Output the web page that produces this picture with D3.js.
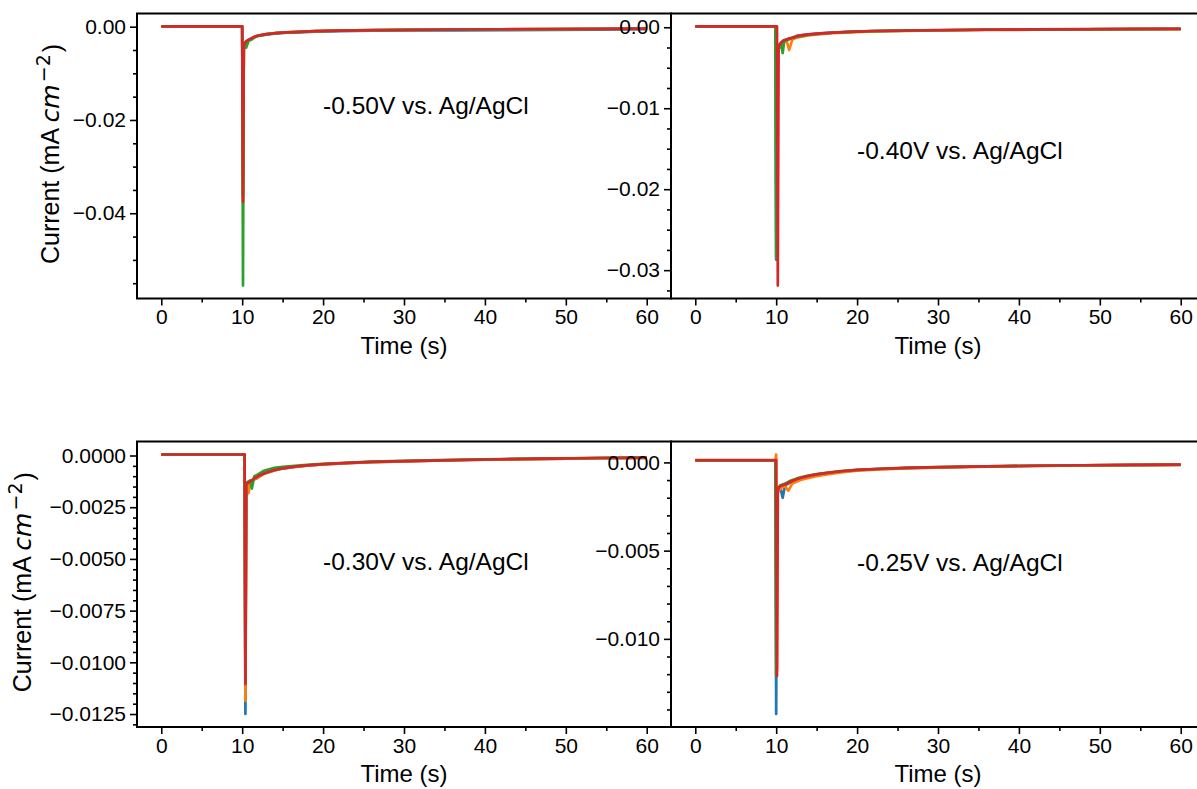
<!DOCTYPE html>
<html>
<head>
<meta charset="utf-8">
<script src="https://cdn.jsdelivr.net/npm/d3@7"></script>
<style>
body { margin: 0; background: #fff; }
svg text { font-family: "Liberation Sans", Arial, sans-serif; fill: #000; }
</style>
</head>
<body>
<svg id="chart" width="1197" height="789"></svg>
<script>
// series colours (matplotlib tab10)
var colors = ["#1f77b4", "#ff7f0e", "#2ca02c", "#d62728"];

// x ticks (s)
var xMajor = [0, 10, 20, 30, 40, 50, 60];
var xMinor = [5, 15, 25, 35, 45, 55];

// -0.50 V
var time050 = [0, 10.0, 10.1, 10.2, 10.35, 10.5, 10.8, 11.2, 11.6, 12, 13, 14, 15.5, 17, 19, 22, 26, 30, 36, 42, 48, 54, 60];
var blue050 = [0.00003, 0.00003, -0.0360, -0.0045, -0.0036, -0.0033, -0.0030, -0.0026, -0.0022, -0.0020, -0.0017, -0.0015, -0.0013, -0.0012, -0.00105, -0.00095, -0.00085, -0.0008, -0.00078, -0.00074, -0.0007, -0.00062, -0.00052];
var orange050 = [0.00004, 0.00004, -0.0368, -0.0042, -0.0035, -0.0032, -0.0029, -0.0025, -0.0021, -0.0019, -0.0016, -0.0014, -0.0012, -0.0011, -0.00095, -0.00086, -0.00076, -0.0007, -0.00062, -0.00057, -0.00052, -0.00047, -0.00042];
var green050 = [0.00004, 0.00004, -0.0555, -0.0048, -0.0036, -0.0045, -0.0030, -0.0027, -0.0022, -0.0019, -0.0016, -0.0014, -0.0012, -0.0011, -0.00095, -0.00085, -0.00075, -0.00069, -0.00061, -0.00056, -0.00051, -0.00046, -0.00041];
var red050 = [0.00005, 0.00005, -0.0376, -0.0040, -0.0034, -0.0031, -0.0028, -0.0024, -0.0021, -0.0019, -0.0016, -0.0014, -0.0012, -0.0011, -0.00095, -0.00085, -0.00075, -0.00068, -0.0006, -0.00055, -0.0005, -0.00045, -0.0004];
var yMajor050 = [0, -0.02, -0.04];

// -0.40 V
var time040 = [0, 9.9, 10.0, 10.1, 10.2, 10.3, 10.45, 10.6, 10.8, 11.0, 11.3, 11.6, 12, 12.5, 13, 14, 15.5, 17, 19, 22, 26, 30, 36, 42, 48, 54, 60];
var blue040 = [0.0001, 0.0001, -0.0287, -0.0026, -0.0024, -0.0022, -0.0025, -0.0019, -0.0018, -0.0016, -0.0015, -0.0014, -0.0013, -0.0011, -0.0010, -0.00088, -0.00076, -0.00067, -0.00057, -0.00047, -0.00041, -0.00037, -0.00031, -0.00028, -0.00025, -0.00022, -0.00021];
var orange040 = [0.0001, 0.0001, 0.0001, -0.0283, -0.0027, -0.0025, -0.0023, -0.0021, -0.0019, -0.0018, -0.0017, -0.0028, -0.0015, -0.0013, -0.0012, -0.0010, -0.00086, -0.00074, -0.00063, -0.00052, -0.00045, -0.0004, -0.00034, -0.0003, -0.00027, -0.00024, -0.00022];
var green040 = [0.0001, 0.0001, -0.0285, -0.0030, -0.0026, -0.0023, -0.0021, -0.0020, -0.0032, -0.0017, -0.0016, -0.0015, -0.0013, -0.0012, -0.0011, -0.00092, -0.00078, -0.00068, -0.00058, -0.00048, -0.00041, -0.00037, -0.00031, -0.00028, -0.00025, -0.00022, -0.00021];
var red040 = [0.0001, 0.0001, 0.0001, 0.0001, -0.0319, -0.0024, -0.0021, -0.0019, -0.0017, -0.0016, -0.0015, -0.0014, -0.0013, -0.0011, -0.0010, -0.00088, -0.00075, -0.00066, -0.00056, -0.00046, -0.0004, -0.00036, -0.0003, -0.00027, -0.00024, -0.00021, -0.0002];
var yMajor040 = [0, -0.01, -0.02, -0.03];

// -0.30 V
var time030 = [0, 10.3, 10.4, 10.5, 10.6, 10.8, 11.0, 11.2, 11.5, 11.8, 12.2, 12.6, 13, 14, 15, 16.5, 18, 20, 23, 26, 30, 36, 42, 48, 54, 60];
var blue030 = [0.00005, 0.00005, -0.0125, -0.0015, -0.0019, -0.0014, -0.0013, -0.00125, -0.00115, -0.0011, -0.001, -0.0009, -0.00084, -0.00072, -0.00063, -0.00055, -0.00049, -0.00043, -0.00037, -0.00032, -0.00028, -0.00023, -0.00019, -0.00016, -0.00013, -0.00011];
var orange030 = [0.00005, 0.00005, -0.01186, -0.0015, -0.0014, -0.0018, -0.0013, -0.00125, -0.00115, -0.0011, -0.001, -0.0009, -0.00083, -0.00071, -0.00062, -0.00055, -0.00049, -0.00043, -0.00037, -0.00032, -0.00028, -0.00023, -0.00019, -0.00016, -0.00013, -0.00011];
var green030 = [0.00005, 0.00005, -0.0110, -0.0014, -0.0013, -0.00125, -0.0012, -0.0016, -0.001, -0.00095, -0.00085, -0.00075, -0.0007, -0.0006, -0.00055, -0.0005, -0.00045, -0.0004, -0.00035, -0.0003, -0.00026, -0.00021, -0.00017, -0.00014, -0.00012, -0.0001];
var red030 = [0.00005, 0.00005, -0.01105, -0.0014, -0.00135, -0.0013, -0.00125, -0.0012, -0.0011, -0.00105, -0.00095, -0.00088, -0.00082, -0.0007, -0.00062, -0.00054, -0.00048, -0.00042, -0.00036, -0.00031, -0.00027, -0.00022, -0.00018, -0.00015, -0.00012, -0.0001];
var yMajor030 = [0, -0.0025, -0.005, -0.0075, -0.01, -0.0125];

// -0.25 V
var time025 = [0, 9.9, 10.0, 10.1, 10.2, 10.35, 10.5, 10.8, 11.1, 11.5, 12, 12.5, 13, 14, 15, 16.5, 18, 20, 23, 26, 30, 36, 42, 48, 54, 60];
var blue025 = [0.00012, 0.00012, -0.01426, -0.0017, -0.0016, -0.0015, -0.0014, -0.0020, -0.0013, -0.0012, -0.0011, -0.001, -0.00092, -0.0008, -0.0007, -0.0006, -0.00052, -0.00044, -0.00037, -0.00032, -0.00028, -0.00023, -0.0002, -0.00017, -0.00015, -0.00014];
var orange025 = [0.00012, 0.00012, 0.00045, -0.0118, -0.0017, -0.0016, -0.0015, -0.0014, -0.00135, -0.0016, -0.0012, -0.0011, -0.001, -0.00088, -0.00078, -0.00066, -0.00056, -0.00047, -0.0004, -0.00034, -0.00029, -0.00024, -0.0002, -0.00017, -0.00015, -0.00014];
var green025 = [0.00012, 0.00012, -0.0121, -0.0016, -0.0015, -0.0014, -0.0013, -0.00125, -0.0012, -0.0011, -0.001, -0.00092, -0.00085, -0.00074, -0.00066, -0.00057, -0.00049, -0.00042, -0.00036, -0.00031, -0.00027, -0.00022, -0.00019, -0.00016, -0.00014, -0.00013];
var red025 = [0.00013, 0.00013, 0.00013, -0.0121, -0.0016, -0.0014, -0.00135, -0.0013, -0.00125, -0.00115, -0.00105, -0.00095, -0.00088, -0.00076, -0.00068, -0.00058, -0.0005, -0.00042, -0.00036, -0.00031, -0.00027, -0.00022, -0.00019, -0.00016, -0.00014, -0.00013];
var yMajor025 = [0, -0.005, -0.010];

// panel setup, drawn in matplotlib order so the right panels sit on top
var panels = [
  {time: time050, series: [blue050, orange050, green050, red050], yMajor: yMajor050, minorStep: 0.005, fmt: ".2f",
   note: "-0.50V vs. Ag/AgCl", noteAt: [20, -0.0168], left: 137, right: 671, top: 13.5, bottom: 298.5, ylabelX: 50},
  {time: time040, series: [blue040, orange040, green040, red040], yMajor: yMajor040, minorStep: 0.0025, fmt: ".2f",
   note: "-0.40V vs. Ag/AgCl", noteAt: [20, -0.01515], left: 671, right: 1205, top: 13.5, bottom: 298.5},
  {time: time030, series: [blue030, orange030, green030, red030], yMajor: yMajor030, minorStep: 0.0005, fmt: ".4f",
   note: "-0.30V vs. Ag/AgCl", noteAt: [20, -0.00512], left: 137, right: 671, top: 441.5, bottom: 727, ylabelX: 22},
  {time: time025, series: [blue025, orange025, green025, red025], yMajor: yMajor025, minorStep: 0.001, fmt: ".3f",
   note: "-0.25V vs. Ag/AgCl", noteAt: [20, -0.00565], left: 671, right: 1205, top: 441.5, bottom: 727}
];

var svg = d3.select("#chart");

panels.forEach(function(p, i) {
  var g = svg.append("g");

  var x = d3.scaleLinear().domain([-3, 63]).range([p.left, p.right]);

  // y extent padded 5% like matplotlib autoscale
  var all = d3.merge(p.series);
  var lo = d3.min(all), hi = d3.max(all), pad = (hi - lo) * 0.05;
  var y = d3.scaleLinear().domain([lo - pad, hi + pad]).range([p.bottom, p.top]);

  g.append("clipPath").attr("id", "clip" + i)
    .append("rect")
    .attr("x", p.left).attr("y", p.top)
    .attr("width", p.right - p.left).attr("height", p.bottom - p.top);

  var line = d3.line()
    .x(function(d) { return x(d[0]); })
    .y(function(d) { return y(d[1]); });

  g.append("g").attr("clip-path", "url(#clip" + i + ")")
    .selectAll("path")
    .data(p.series)
    .enter().append("path")
      .attr("d", function(s) { return line(p.time.map(function(t, k) { return [t, s[k]]; })); })
      .attr("fill", "none")
      .attr("stroke", function(s, k) { return colors[k]; })
      .attr("stroke-width", 2.7)
      .attr("stroke-linejoin", "round");

  // minor y ticks
  var yMinor = d3.range(0, y.domain()[0], -p.minorStep).filter(function(v) {
    return !p.yMajor.some(function(m) { return Math.abs(m - v) < 1e-9; });
  });
  g.append("g")
    .attr("transform", "translate(" + p.left + ",0)")
    .call(d3.axisLeft(y).tickValues(yMinor).tickSize(4).tickFormat(""));
  g.append("g")
    .attr("transform", "translate(" + p.left + ",0)")
    .call(d3.axisLeft(y).tickValues(p.yMajor).tickSize(7).tickPadding(4).tickFormat(d3.format(p.fmt)));

  // x ticks
  g.append("g")
    .attr("transform", "translate(0," + p.bottom + ")")
    .call(d3.axisBottom(x).tickValues(xMinor).tickSize(4).tickFormat(""));
  g.append("g")
    .attr("transform", "translate(0," + p.bottom + ")")
    .call(d3.axisBottom(x).tickValues(xMajor).tickSize(7).tickPadding(4).tickFormat(d3.format("d")));

  g.selectAll(".domain").remove();
  g.selectAll(".tick line").attr("stroke", "#000").attr("stroke-width", 1.6);
  g.selectAll(".tick text").style("font-size", "21px").attr("fill", "#000");

  // frame
  g.append("rect")
    .attr("x", p.left).attr("y", p.top)
    .attr("width", p.right - p.left).attr("height", p.bottom - p.top)
    .attr("fill", "none").attr("stroke", "#000").attr("stroke-width", 2);

  // x label
  g.append("text")
    .attr("x", (p.left + p.right) / 2)
    .attr("y", p.bottom + 55)
    .attr("text-anchor", "middle")
    .style("font-size", "24px")
    .text("Time (s)");

  // y label only on left panels
  if (p.ylabelX) {
    var yl = g.append("text")
      .attr("transform", "translate(" + p.ylabelX + "," + ((p.top + p.bottom) / 2 - 2) + ") rotate(-90)")
      .attr("text-anchor", "middle")
      .attr("dy", "0.35em")
      .style("font-size", "25px");
    yl.append("tspan").text("Current (mA ");
    yl.append("tspan").style("font-style", "italic").style("font-family", "'DejaVu Sans'").text("cm");
    yl.append("tspan").attr("dx", 2).attr("dy", "-0.45em").style("font-size", "19px").style("font-family", "'DejaVu Sans'").text("\u22122");
    yl.append("tspan").attr("dx", 2).attr("dy", "0.45em").text(")");
  }

  // potential note
  g.append("text")
    .attr("x", x(p.noteAt[0]))
    .attr("y", y(p.noteAt[1]))
    .attr("dy", "0.35em")
    .style("font-size", "24.5px")
    .text(p.note);
});
</script>
</body>
</html>
